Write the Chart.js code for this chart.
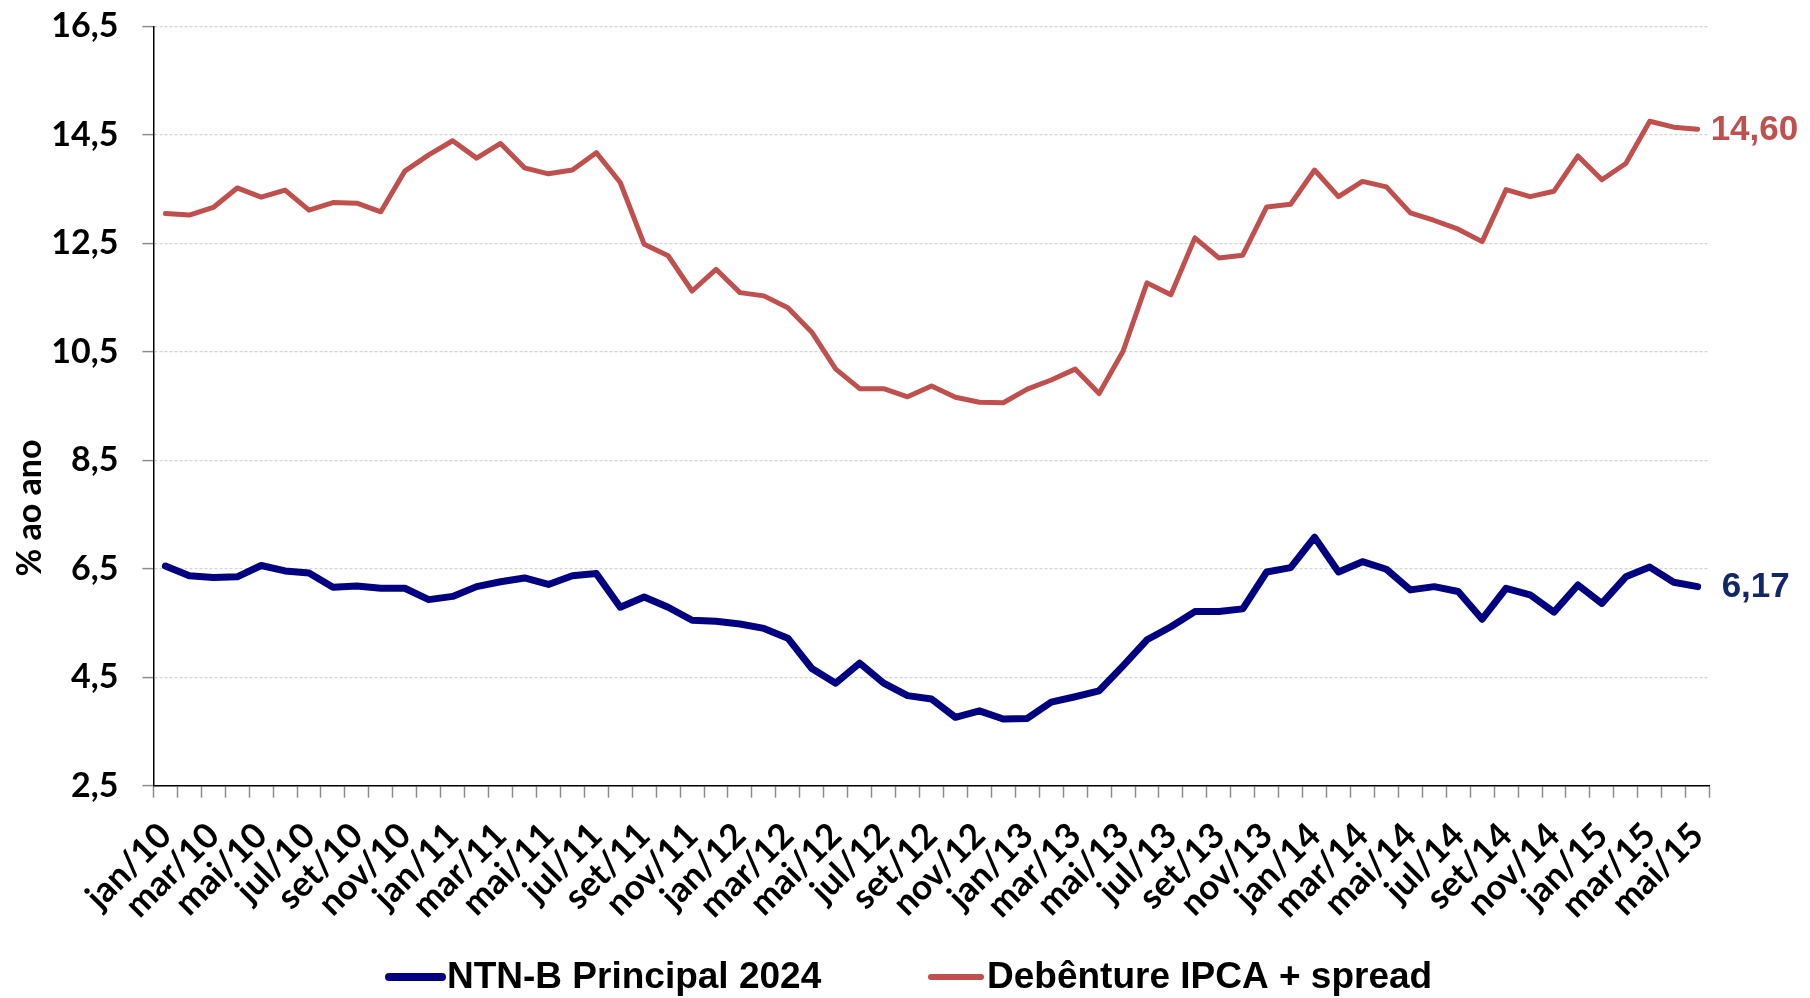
<!DOCTYPE html>
<html><head><meta charset="utf-8">
<script src="https://cdn.jsdelivr.net/npm/chart.js@4.4.1/dist/chart.umd.min.js"></script>
<style>html,body{margin:0;padding:0;background:#fff;} #wrap{width:1810px;height:998px;}</style>
</head><body><div id="wrap"><canvas id="c" width="1810" height="998"></canvas></div>
<script>
const categories = [
  'jan/10','fev/10','mar/10','abr/10','mai/10','jun/10','jul/10','ago/10','set/10','out/10','nov/10','dez/10',
  'jan/11','fev/11','mar/11','abr/11','mai/11','jun/11','jul/11','ago/11','set/11','out/11','nov/11','dez/11',
  'jan/12','fev/12','mar/12','abr/12','mai/12','jun/12','jul/12','ago/12','set/12','out/12','nov/12','dez/12',
  'jan/13','fev/13','mar/13','abr/13','mai/13','jun/13','jul/13','ago/13','set/13','out/13','nov/13','dez/13',
  'jan/14','fev/14','mar/14','abr/14','mai/14','jun/14','jul/14','ago/14','set/14','out/14','nov/14','dez/14',
  'jan/15','fev/15','mar/15','abr/15','mai/15'
];
const ntnbValues = [
  6.55, 6.37, 6.34, 6.35, 6.56, 6.46, 6.42, 6.16, 6.18, 6.14,
  6.14, 5.93, 5.99, 6.17, 6.26, 6.33, 6.21, 6.37, 6.41, 5.79,
  5.98, 5.79, 5.55, 5.53, 5.48, 5.40, 5.22, 4.66, 4.39, 4.76,
  4.39, 4.16, 4.10, 3.76, 3.88, 3.73, 3.74, 4.04, 4.14, 4.25,
  4.71, 5.19, 5.43, 5.71, 5.71, 5.76, 6.44, 6.52, 7.08, 6.44,
  6.63, 6.49, 6.11, 6.17, 6.08, 5.57, 6.14, 6.02, 5.70, 6.20,
  5.86, 6.35, 6.53, 6.25, 6.17
];
const debentureValues = [
  13.05, 13.02, 13.16, 13.52, 13.35, 13.48, 13.11, 13.25, 13.24, 13.08,
  13.83, 14.13, 14.39, 14.07, 14.34, 13.89, 13.78, 13.85, 14.17, 13.62,
  12.48, 12.27, 11.62, 12.02, 11.59, 11.53, 11.31, 10.86, 10.18, 9.82,
  9.82, 9.67, 9.87, 9.66, 9.57, 9.56, 9.81, 9.98, 10.18, 9.73,
  10.51, 11.77, 11.55, 12.60, 12.23, 12.28, 13.17, 13.22, 13.85, 13.36,
  13.64, 13.54, 13.06, 12.92, 12.76, 12.53, 13.49, 13.36, 13.46, 14.11,
  13.67, 13.97, 14.75, 14.64, 14.60
];
const seriesNames = ['NTN-B Principal 2024', 'Debênture IPCA + spread'];
const seriesColors = ['#000080', '#C0504D'];
const yMin = 2.5, yMax = 16.5, yStep = 2;
const yAxisTitle = '% ao ano';

const fmt = (v, d) => v.toFixed(d).replace('.', ',');

const endLabels = {
  id: 'endLabels',
  afterDatasetsDraw(chart) {
    const ctx = chart.ctx;
    const cfg = [
      {color: '#12276a', dx: 24},
      {color: '#C0504D', dx: 13}
    ];
    chart.data.datasets.forEach((ds, i) => {
      const meta = chart.getDatasetMeta(i);
      const last = meta.data[meta.data.length - 1];
      ctx.save();
      ctx.font = 'bold 35px "Liberation Sans", Arial, sans-serif';
      ctx.fillStyle = cfg[i].color;
      ctx.textAlign = 'left';
      ctx.textBaseline = 'middle';
      ctx.fillText(fmt(ds.data[ds.data.length - 1], 2), last.x + cfg[i].dx, last.y + 1);
      ctx.restore();
    });
  }
};

const yTitle = {
  id: 'yTitle',
  afterDraw(chart) {
    const ctx = chart.ctx;
    ctx.save();
    ctx.translate(30, 508);
    ctx.rotate(-Math.PI / 2);
    ctx.font = 'bold 34px Lato, sans-serif';
    ctx.fillStyle = '#000';
    ctx.textAlign = 'center';
    ctx.textBaseline = 'middle';
    ctx.fillText(yAxisTitle, 0, 0);
    ctx.restore();
  }
};

const bottomLegend = {
  id: 'bottomLegend',
  afterDraw(chart) {
    const ctx = chart.ctx;
    const items = [
      {x1: 389, x2: 442, tx: 447, w: 8},
      {x1: 931, x2: 981, tx: 987, w: 6}
    ];
    const y = 977;
    ctx.save();
    ctx.font = 'bold 37px "Liberation Sans", Arial, sans-serif';
    ctx.textBaseline = 'middle';
    ctx.textAlign = 'left';
    chart.data.datasets.forEach((ds, i) => {
      const it = items[i];
      ctx.strokeStyle = ds.borderColor;
      ctx.lineWidth = it.w;
      ctx.lineCap = 'round';
      ctx.beginPath();
      ctx.moveTo(it.x1, y);
      ctx.lineTo(it.x2, y);
      ctx.stroke();
      ctx.fillStyle = '#000';
      ctx.fillText(ds.label, it.tx, y + 1);
    });
    ctx.restore();
  }
};

function build() {
  new Chart(document.getElementById('c'), {
    type: 'line',
    data: {
      labels: categories,
      datasets: [
        {label: seriesNames[0], data: ntnbValues, borderColor: seriesColors[0], backgroundColor: seriesColors[0],
         borderWidth: 7, pointRadius: 0, tension: 0, borderCapStyle: 'round', borderJoinStyle: 'round'},
        {label: seriesNames[1], data: debentureValues, borderColor: seriesColors[1], backgroundColor: seriesColors[1],
         borderWidth: 5, pointRadius: 0, tension: 0, borderCapStyle: 'round', borderJoinStyle: 'round'}
      ]
    },
    options: {
      responsive: false,
      animation: false,
      layout: {padding: {top: 26.3, right: 100.4, bottom: 0, left: 0}},
      plugins: {
        tooltip: {enabled: false},
        title: {display: false},
        legend: {display: false}
      },
      scales: {
        x: {
          type: 'category',
          offset: true,
          afterFit(s) { s.height = 212.3; s.paddingLeft = 0; s.paddingRight = 0; },
          grid: {offset: true, drawOnChartArea: false, drawTicks: true, tickLength: 12, tickColor: '#8c8c8c', tickWidth: 1.5},
          border: {display: true, color: '#000', width: 1.5},
          ticks: {
            autoSkip: false, minRotation: 45, maxRotation: 45, padding: 17,
            color: '#000',
            font: {family: 'Lato, sans-serif', size: 35, weight: 'bold'},
            callback(v, i) { return i % 2 === 0 ? categories[i] : ''; }
          }
        },
        y: {
          min: yMin, max: yMax,
          afterFit(s) { s.width = 153.4; s.paddingTop = 0; s.paddingBottom = 0; },
          grid: {color: '#d4d4d4', lineWidth: 1.2, drawTicks: true, tickLength: 11, tickColor: '#8c8c8c', tickWidth: 1.5},
          border: {display: true, color: '#000', width: 1.5, dash: [3, 2]},
          ticks: {
            stepSize: yStep, padding: 24, color: '#000',
            font: {family: 'Lato, sans-serif', size: 34, weight: 'bold'},
            callback(v) { return fmt(v, 1); }
          }
        }
      }
    },
    plugins: [endLabels, yTitle, bottomLegend]
  });
}

Promise.all([
  document.fonts.load('bold 32px Lato'),
  document.fonts.load('bold 35px "Liberation Sans"')
]).then(build, build);
</script>
</body></html>
